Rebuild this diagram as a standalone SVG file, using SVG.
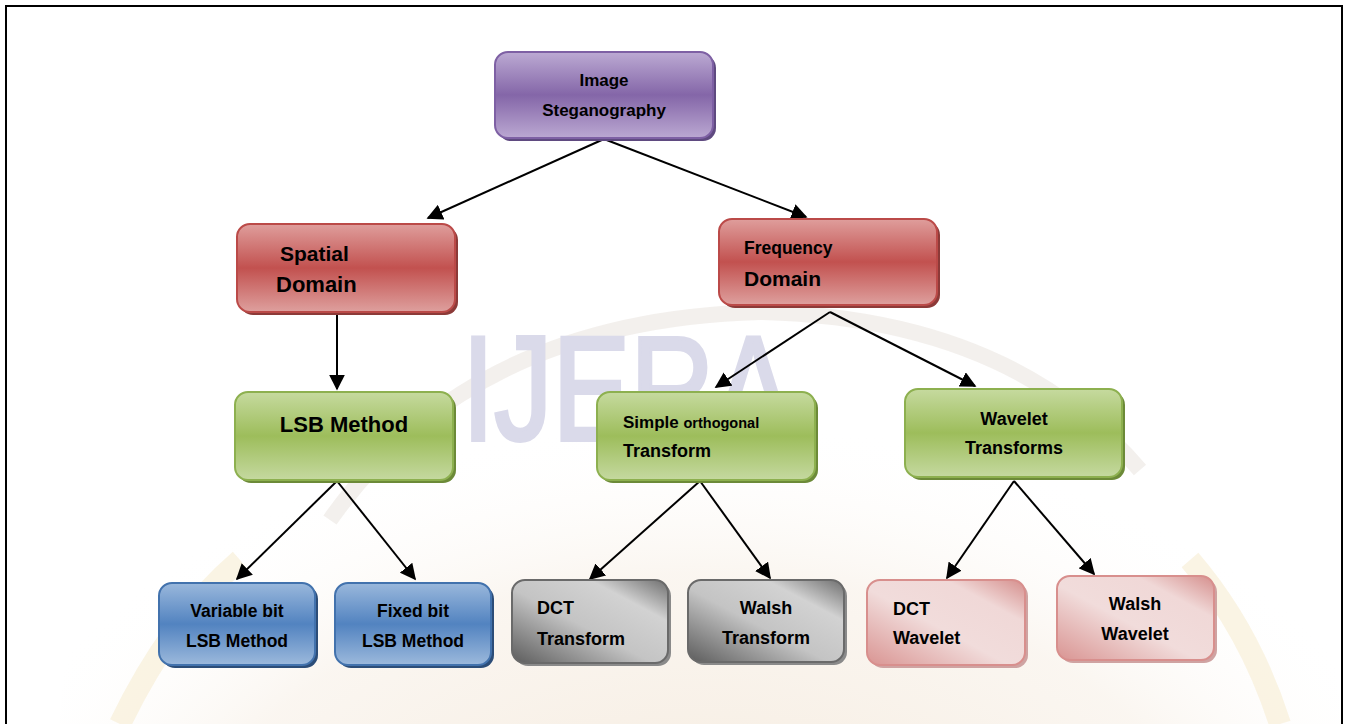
<svg xmlns="http://www.w3.org/2000/svg" width="1348" height="724" viewBox="0 0 1348 724">
<defs>
<linearGradient id="gPurple" x1="0" y1="0" x2="0" y2="1"><stop offset="0" stop-color="#bcaad3"/><stop offset="0.5" stop-color="#8466a8"/><stop offset="1" stop-color="#bba8d2"/></linearGradient>
<linearGradient id="gRed" x1="0" y1="0" x2="0" y2="1"><stop offset="0" stop-color="#df9e9c"/><stop offset="0.5" stop-color="#c2514f"/><stop offset="1" stop-color="#dea09e"/></linearGradient>
<linearGradient id="gGreen" x1="0" y1="0" x2="0" y2="1"><stop offset="0" stop-color="#c6da9f"/><stop offset="0.5" stop-color="#9dbd5b"/><stop offset="1" stop-color="#c5d9a0"/></linearGradient>
<linearGradient id="gBlue" x1="0" y1="0" x2="0" y2="1"><stop offset="0" stop-color="#9ab8dc"/><stop offset="0.5" stop-color="#5283c0"/><stop offset="1" stop-color="#9cb9dc"/></linearGradient>
<linearGradient id="gGray" x1="0" y1="1" x2="1" y2="0"><stop offset="0" stop-color="#5c5c5c"/><stop offset="0.45" stop-color="#c4c4c4"/><stop offset="0.75" stop-color="#d2d2d2"/><stop offset="1" stop-color="#6e6e6e"/></linearGradient>
<linearGradient id="gPink" x1="0" y1="1" x2="1" y2="0"><stop offset="0" stop-color="#d99492"/><stop offset="0.45" stop-color="#f1dcdb"/><stop offset="0.75" stop-color="#f0d8d7"/><stop offset="1" stop-color="#d58e8c"/></linearGradient>
<radialGradient id="gGlobe" cx="0.5" cy="0.75" r="0.6"><stop offset="0" stop-color="#f2e4d2" stop-opacity="0.9"/><stop offset="0.7" stop-color="#f6ede2" stop-opacity="0.5"/><stop offset="1" stop-color="#ffffff" stop-opacity="0"/></radialGradient>
<marker id="arr" viewBox="0 0 10 10" refX="9" refY="5" markerWidth="8" markerHeight="8" orient="auto" markerUnits="strokeWidth"><path d="M0,0 L10,5 L0,10 z" fill="#000"/></marker>
<style>
.t{font-family:"Liberation Sans",Arial,sans-serif;font-weight:bold;fill:#000;}
.c{stroke:#000;stroke-width:2;fill:none;marker-end:url(#arr);}
</style>
</defs>
<rect x="0" y="0" width="1348" height="724" fill="#fff"/>
<g id="watermark">
<ellipse cx="700" cy="720" rx="640" ry="430" fill="url(#gGlobe)"/>
<path d="M330,520 Q470,320 760,312 Q1010,318 1140,470" fill="none" stroke="#eeeae6" stroke-width="16" opacity="0.7"/>
<path d="M120,724 Q170,620 240,560" fill="none" stroke="#f7ecd2" stroke-width="22" opacity="0.6"/>
<path d="M1190,560 Q1250,630 1280,724" fill="none" stroke="#f7ecd2" stroke-width="22" opacity="0.6"/>
<text x="462" y="440" font-family="'Liberation Sans',Arial,sans-serif" font-size="148" fill="#dadaea" stroke="#dadaea" stroke-width="4" textLength="330" lengthAdjust="spacingAndGlyphs">IJERA</text>
</g>
<rect x="6" y="6" width="1336" height="730" fill="none" stroke="#000" stroke-width="2"/>
<g id="connectors">
<line class="c" x1="604" y1="139" x2="428" y2="218"/>
<line class="c" x1="604" y1="139" x2="806" y2="217"/>
<line class="c" x1="337" y1="312" x2="337" y2="389"/>
<line class="c" x1="830" y1="312" x2="716" y2="387"/>
<line class="c" x1="830" y1="312" x2="975" y2="386"/>
<line class="c" x1="337" y1="481" x2="237" y2="579"/>
<line class="c" x1="337" y1="481" x2="415" y2="579"/>
<line class="c" x1="700" y1="481" x2="590" y2="579"/>
<line class="c" x1="700" y1="481" x2="770" y2="578"/>
<line class="c" x1="1014" y1="481" x2="947" y2="578"/>
<line class="c" x1="1014" y1="481" x2="1094" y2="574"/>
</g>
<g id="n-image">
<rect x="498" y="55" width="218" height="86" rx="13" fill="#5f4a80"/>
<rect x="495" y="52" width="218" height="86" rx="13" fill="url(#gPurple)" stroke="#7e60a4" stroke-width="2"/>
<text class="t" x="604" y="86" font-size="17" text-anchor="middle">Image</text>
<text class="t" x="604" y="116" font-size="17" text-anchor="middle">Steganography</text>
</g>
<g id="n-spatial">
<rect x="240" y="227" width="218" height="88" rx="13" fill="#8c3a38"/>
<rect x="237" y="224" width="218" height="88" rx="13" fill="url(#gRed)" stroke="#bb4a48" stroke-width="2"/>
<text class="t" x="280" y="261" font-size="21">Spatial</text>
<text class="t" x="276" y="292" font-size="22">Domain</text>
</g>
<g id="n-frequency">
<rect x="722" y="222" width="218" height="86" rx="13" fill="#8c3a38"/>
<rect x="719" y="219" width="218" height="86" rx="13" fill="url(#gRed)" stroke="#bb4a48" stroke-width="2"/>
<text class="t" x="744" y="254" font-size="17.5">Frequency</text>
<text class="t" x="744" y="286" font-size="21">Domain</text>
</g>
<g id="n-lsb">
<rect x="238" y="395" width="218" height="88" rx="13" fill="#6c8a38"/>
<rect x="235" y="392" width="218" height="88" rx="13" fill="url(#gGreen)" stroke="#8db04f" stroke-width="2"/>
<text class="t" x="344" y="432" font-size="22" text-anchor="middle">LSB Method</text>
</g>
<g id="n-simple">
<rect x="600" y="395" width="218" height="88" rx="13" fill="#6c8a38"/>
<rect x="597" y="392" width="218" height="88" rx="13" fill="url(#gGreen)" stroke="#8db04f" stroke-width="2"/>
<text class="t" x="623" y="428" font-size="17">Simple <tspan font-size="14.5">orthogonal</tspan></text>
<text class="t" x="623" y="457" font-size="18">Transform</text>
</g>
<g id="n-wavelet">
<rect x="908" y="392" width="217" height="88" rx="13" fill="#6c8a38"/>
<rect x="905" y="389" width="217" height="88" rx="13" fill="url(#gGreen)" stroke="#8db04f" stroke-width="2"/>
<text class="t" x="1014" y="425" font-size="18" text-anchor="middle">Wavelet</text>
<text class="t" x="1014" y="454" font-size="18" text-anchor="middle">Transforms</text>
</g>
<g id="n-variable">
<rect x="162" y="586" width="156" height="82" rx="13" fill="#2c4d78"/>
<rect x="159" y="583" width="156" height="82" rx="13" fill="url(#gBlue)" stroke="#4272ad" stroke-width="2"/>
<text class="t" x="237" y="617" font-size="17.5" text-anchor="middle">Variable bit</text>
<text class="t" x="237" y="647" font-size="17.5" text-anchor="middle">LSB Method</text>
</g>
<g id="n-fixed">
<rect x="338" y="586" width="156" height="82" rx="13" fill="#2c4d78"/>
<rect x="335" y="583" width="156" height="82" rx="13" fill="url(#gBlue)" stroke="#4272ad" stroke-width="2"/>
<text class="t" x="413" y="617" font-size="17.5" text-anchor="middle">Fixed bit</text>
<text class="t" x="413" y="647" font-size="17.5" text-anchor="middle">LSB Method</text>
</g>
<g id="n-dct-transform">
<rect x="515" y="583" width="156" height="83" rx="13" fill="#8a8a8a"/>
<rect x="512" y="580" width="156" height="83" rx="13" fill="url(#gGray)" stroke="#6a6a6a" stroke-width="2"/>
<text class="t" x="537" y="614" font-size="18">DCT</text>
<text class="t" x="537" y="645" font-size="18">Transform</text>
</g>
<g id="n-walsh-transform">
<rect x="691" y="583" width="156" height="82" rx="13" fill="#8a8a8a"/>
<rect x="688" y="580" width="156" height="82" rx="13" fill="url(#gGray)" stroke="#6a6a6a" stroke-width="2"/>
<text class="t" x="766" y="614" font-size="18" text-anchor="middle">Walsh</text>
<text class="t" x="766" y="644" font-size="18" text-anchor="middle">Transform</text>
</g>
<g id="n-dct-wavelet">
<rect x="870" y="583" width="158" height="85" rx="13" fill="#cfa3a2"/>
<rect x="867" y="580" width="158" height="85" rx="13" fill="url(#gPink)" stroke="#d88f8d" stroke-width="2"/>
<text class="t" x="893" y="615" font-size="18">DCT</text>
<text class="t" x="893" y="644" font-size="18">Wavelet</text>
</g>
<g id="n-walsh-wavelet">
<rect x="1060" y="579" width="157" height="84" rx="13" fill="#cfa3a2"/>
<rect x="1057" y="576" width="157" height="84" rx="13" fill="url(#gPink)" stroke="#d88f8d" stroke-width="2"/>
<text class="t" x="1135" y="610" font-size="18" text-anchor="middle">Walsh</text>
<text class="t" x="1135" y="640" font-size="18" text-anchor="middle">Wavelet</text>
</g>
</svg>
